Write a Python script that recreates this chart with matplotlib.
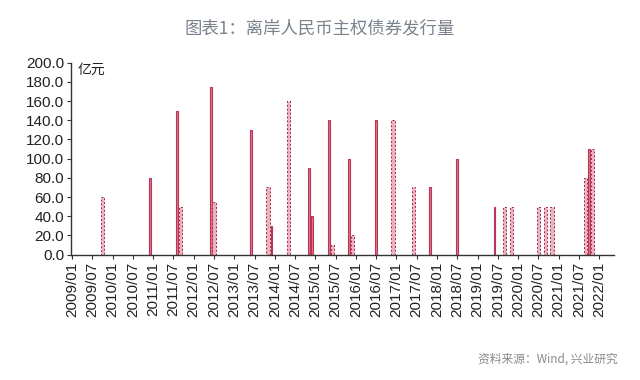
import matplotlib.pyplot as plt

plt.rcParams['font.family'] = ['Noto Sans CJK SC', 'DejaVu Sans']

# month index, 0 = 2009/01
solid_months = [23, 31, 41, 53, 59, 70, 71, 76, 82, 90, 106, 114, 125, 153]
solid_values = [80, 150, 175, 130, 30, 90, 40, 140, 100, 140, 70, 100, 50, 110]

pink_months = [9, 32, 42, 58, 64, 77, 83, 95, 101, 128, 130, 138, 140, 142, 152, 154]
pink_values = [60, 50, 55, 70, 160, 10, 20, 140, 70, 50, 50, 50, 50, 50, 80, 110]

tick_labels = [f"{2009 + i // 2}/{'01' if i % 2 == 0 else '07'}" for i in range(27)]
tick_pos = [i * 6 for i in range(27)]

fig = plt.figure(figsize=(6.4, 3.8), dpi=100)
ax = fig.add_axes([0.111, 0.330, 0.848, 0.505])

ax.bar(solid_months, solid_values, width=0.55, color='#e07890',
       edgecolor='#b83556', linewidth=0.8)
ax.bar(pink_months, pink_values, width=0.95, color='#eeb0bd',
       edgecolor='#9a2a48', linewidth=0.7, linestyle=(0, (2, 2)))

ax.set_xlim(-0.3, 160.3)
ax.set_ylim(0, 200)
ax.set_yticks(range(0, 201, 20))
ax.set_yticklabels([f"{v:.1f}" for v in range(0, 201, 20)],
                   fontsize=11, family='Liberation Sans', color='#222222')
ax.set_xticks(tick_pos)
ax.set_xticklabels(tick_labels, rotation=90, fontsize=11,
                   family='Liberation Sans', color='#222222')

for s in ['top', 'right']:
    ax.spines[s].set_visible(False)
for s in ['left', 'bottom']:
    ax.spines[s].set_color('#333333')
    ax.spines[s].set_linewidth(1.0)
ax.tick_params(axis='both', direction='out', length=3, color='#333333', pad=2)

ax.text(0.012, 1.0, '亿元', transform=ax.transAxes, fontsize=10,
        va='top', ha='left', color='#222222')

fig.text(0.5, 0.925, '图表1：离岸人民币主权债券发行量', ha='center', va='center',
         fontsize=12.5, color='#7a828c')
fig.text(0.965, 0.055, '资料来源：Wind, 兴业研究', ha='right', va='center',
         fontsize=8.5, color='#8a8a8a')

fig.savefig('out.png', dpi=100)
